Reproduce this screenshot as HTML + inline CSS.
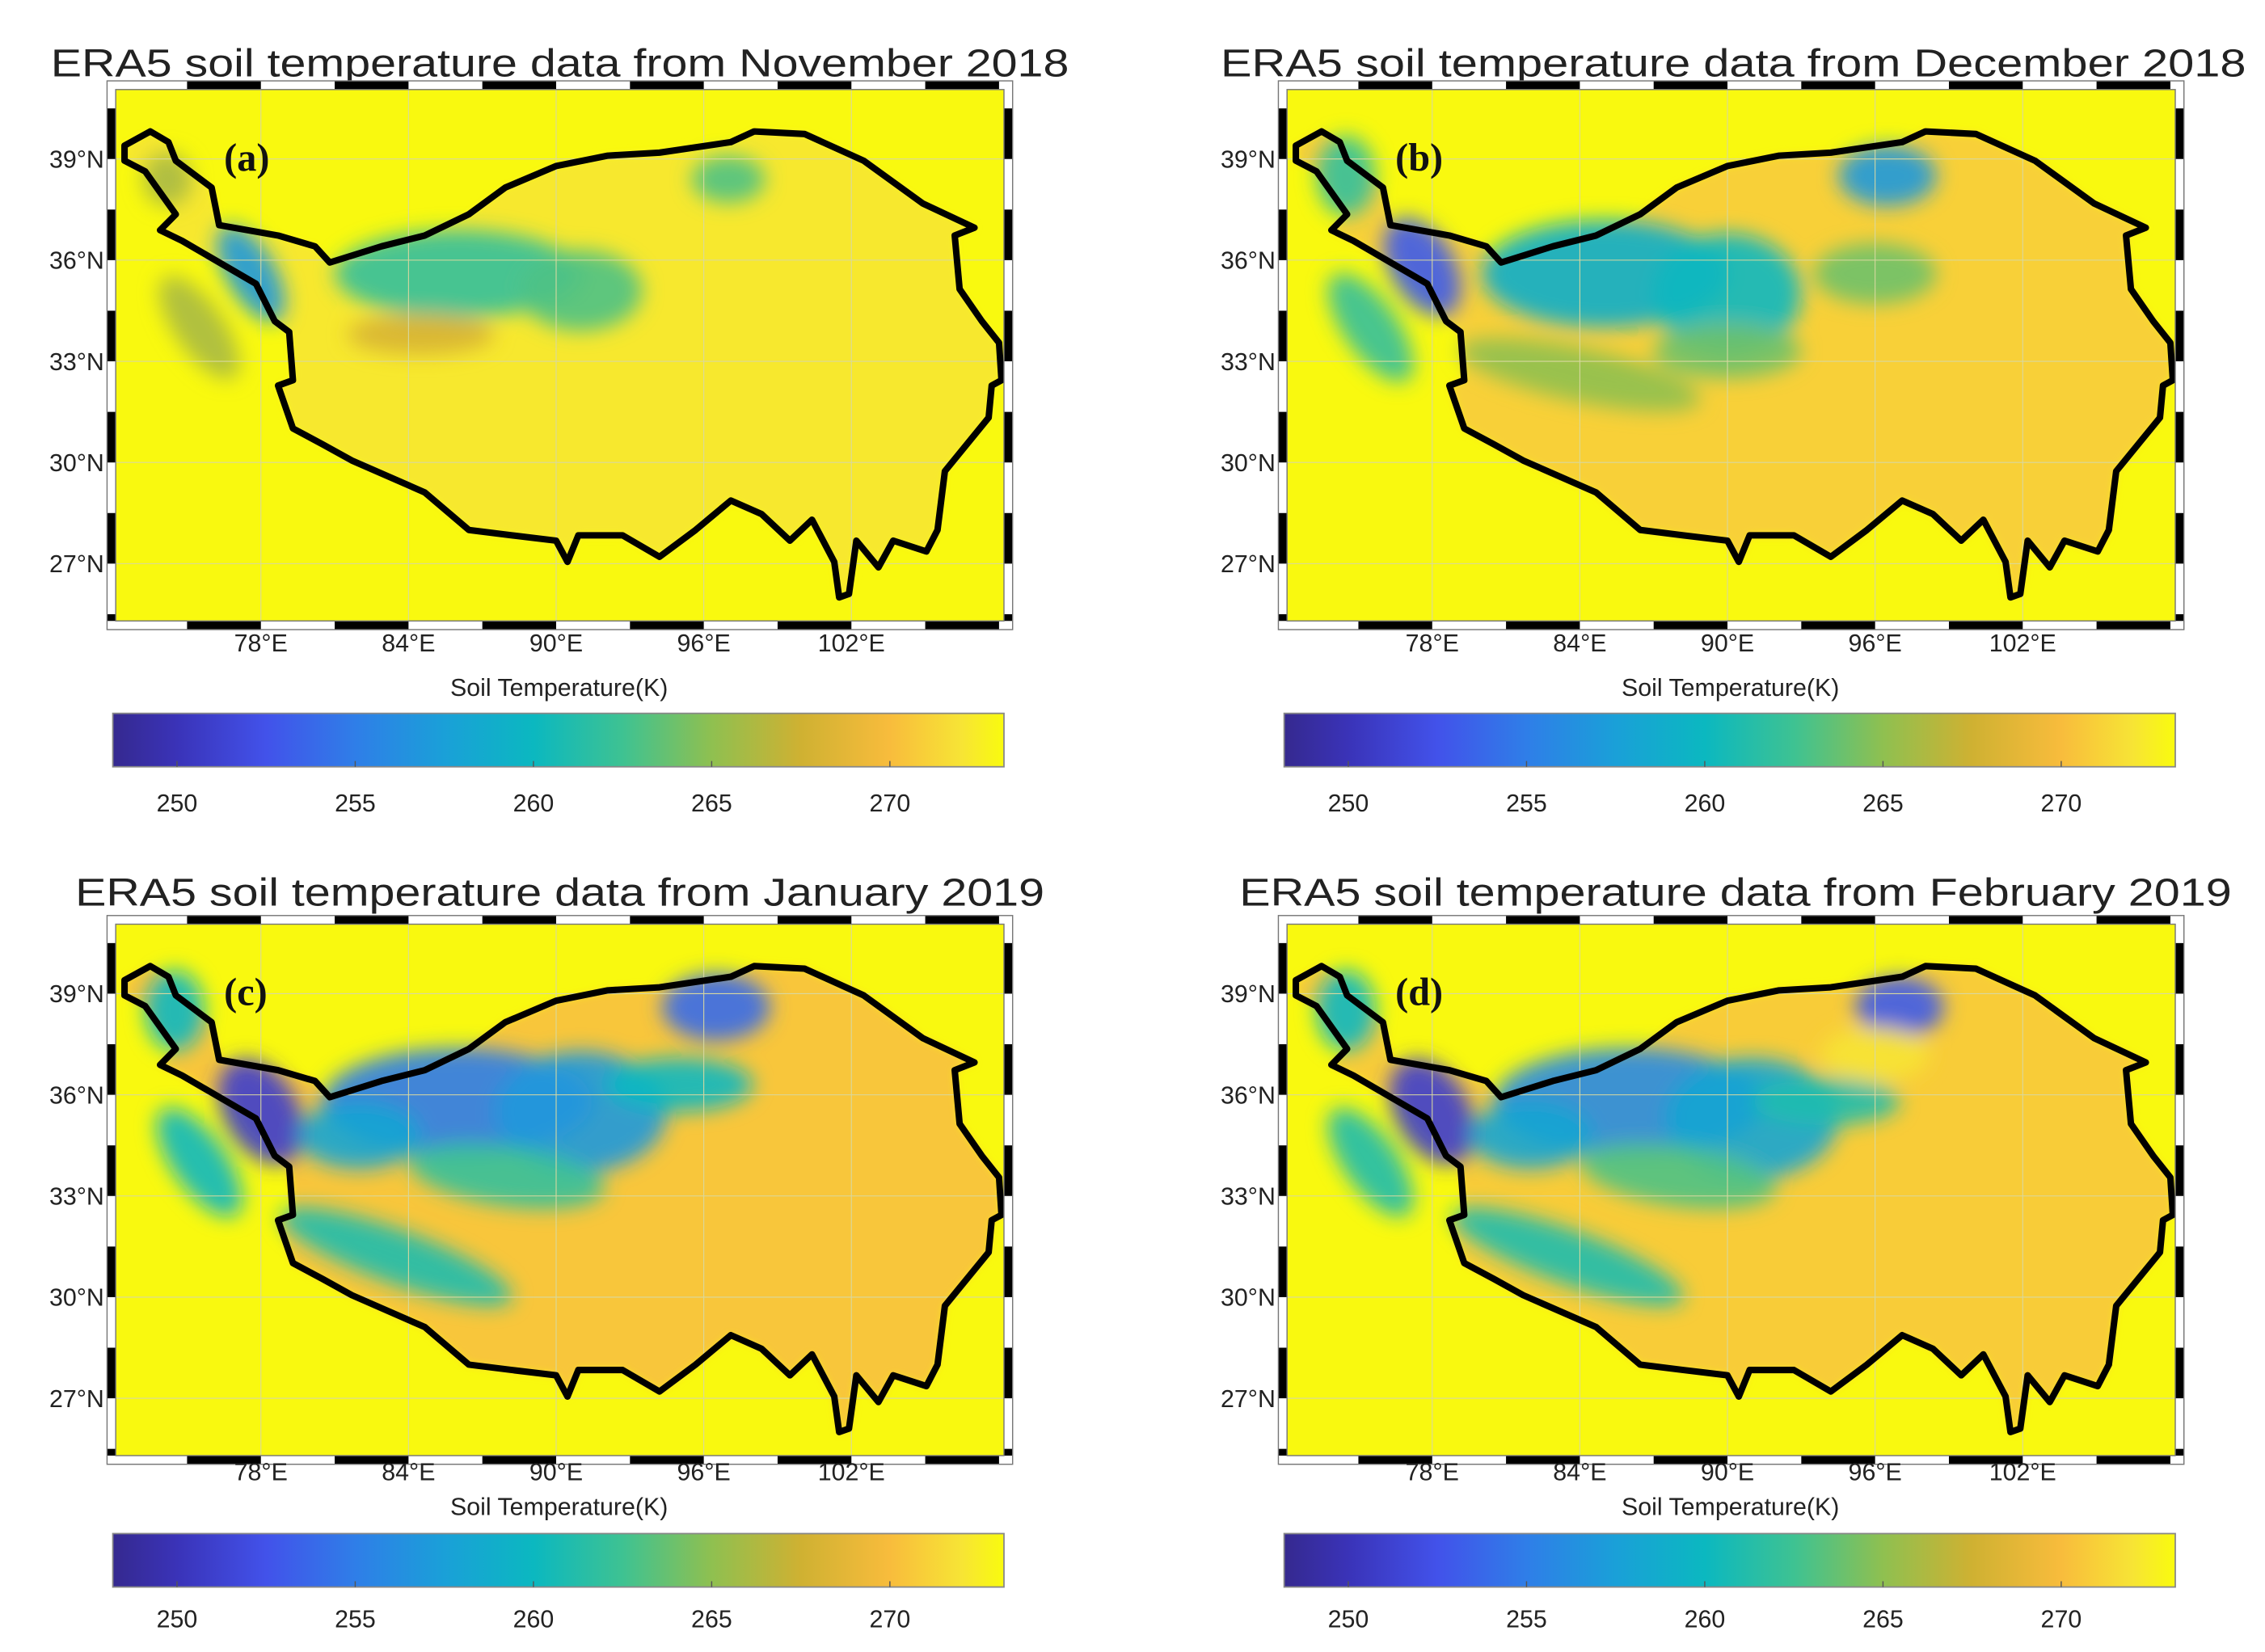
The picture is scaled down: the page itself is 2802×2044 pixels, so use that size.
<!DOCTYPE html>
<html><head><meta charset="utf-8">
<style>
html,body{margin:0;padding:0;background:#fff;}
svg{display:block;}
text{font-family:"Liberation Sans",Arial,sans-serif;fill:#222;}
text.letter{font-family:"Liberation Serif",serif;font-weight:bold;fill:#111;}
</style></head>
<body>
<svg id="fig" width="2802" height="2044" viewBox="0 0 1568 1144" xmlns="http://www.w3.org/2000/svg">
<defs>
<filter id="blur" x="-20%" y="-20%" width="140%" height="140%"><feGaussianBlur stdDeviation="7"/></filter>
<filter id="blur2" x="-20%" y="-20%" width="140%" height="140%"><feGaussianBlur stdDeviation="3"/></filter>
</defs>
</svg>
<script>
// ---- data ----
const panelTitles = ["ERA5 soil temperature data from November 2018","ERA5 soil temperature data from December 2018","ERA5 soil temperature data from January 2019","ERA5 soil temperature data from February 2019"];
const panelLetters = ["(a)","(b)","(c)","(d)"];
const lonTicks = [78,84,90,96,102];
const latTicks = [39,36,33,30,27];
const cbTicks = [250,255,260,265,270];
const cbMin = 248.2, cbMax = 273.2;
const outlineLon = [72.46,73.5,74.24,74.54,76.0,76.3,78.7,80.2,80.8,82.9,84.66,86.45,87.93,90.0,92.1,94.2,97.1,98.05,100.1,102.5,104.9,107.0,106.2,106.4,107.3,108.0,108.1,107.7,107.58,105.8,105.5,105.05,103.7,103.1,102.2,101.9,101.5,101.3,100.4,99.5,98.35,97.1,95.67,94.2,92.7,90.9,90.46,90.0,88.2,86.45,84.66,81.7,80.5,79.3,78.7,79.3,79.15,78.56,77.8,74.8,73.9,74.54,73.3,72.46];
const outlineLat = [39.4,39.82,39.5,38.95,38.15,37.04,36.73,36.41,35.93,36.41,36.73,37.36,38.15,38.79,39.1,39.19,39.5,39.82,39.74,38.95,37.68,36.96,36.73,35.14,34.19,33.55,32.44,32.28,31.33,29.74,28.0,27.36,27.68,26.89,27.68,26.1,26.0,27.05,28.3,27.68,28.47,28.87,28.0,27.2,27.84,27.84,27.05,27.68,27.84,28.0,29.11,30.06,30.54,31.01,32.28,32.44,33.87,34.19,35.3,36.57,36.89,37.36,38.63,38.95];
// temperature regions per panel: lon, lat, radius lon, radius lat, rotation, temperature (K)
const blobLon = [[86,91,97,77.6,75.5,84.5,74.2],
 [85,90,96.5,77.6,74.5,84,96,75.5,90],
 [86,91,96.5,78,74.5,83.5,95,75.5,88,82],
 [86,91,97,78,74.5,83.5,94,75.5,88,96,82]];
const blobLat = [[35.6,35.1,38.4,35.6,34.0,33.8,38.4],
 [35.6,35.0,38.5,35.8,38.5,32.6,35.6,34.0,33.3],
 [35.8,35.5,38.6,35.5,38.5,31.2,36.3,34.0,33.6,34.8],
 [35.8,35.3,38.6,35.5,38.5,31.2,35.8,34.0,33.6,37.2,34.8]];
const blobRx = [[5,2.5,1.5,1.0,1.0,3,1.0],
 [5,3,2,1.3,1.2,5,2.5,1.1,3],
 [5.5,3.5,2.2,1.5,1.2,5,3,1.1,4,2.5],
 [5.5,3.5,1.8,1.5,1.2,5,3,1.1,4,2.2,2.5]];
const blobRy = [[1.3,1.2,0.7,1.6,1.8,0.6,0.8],
 [1.6,1.8,0.9,1.6,1.2,0.8,0.9,1.9,0.8],
 [1.6,1.8,1.0,1.7,1.2,0.8,0.8,1.9,0.9,1.0],
 [1.6,1.8,0.9,1.7,1.2,0.8,0.7,1.9,0.9,0.8,1.0]];
const blobRot = [[0,0,0,-30,-35,0,0],
 [0,0,0,-30,0,12,0,-35,0],
 [0,0,0,-30,0,20,0,-35,8,0],
 [0,0,0,-30,0,20,0,-35,8,0,0]];
const blobT = [[262,263,263,257,266,268,266],
 [259,260,257,253,262,265,264,262,264],
 [255,257,254,251,260,261,260,260,262,258],
 [256,258,253,251,260,261,261,261,263,272,258]];
const plateauBaseT = [272.2,271.0,270.5,270.8];
// ---- layout ----
const panelDX = [0,811,0,811];
const panelDY = [0,0,578,578];
const titleX = [[35,740],[845,1555],[52,723],[858,1545]];
const titleY = [53,53,627,627];
const xlabY = [451,451,1025,1025];
const soilY = [482,482,1049,1049];
const cbY = [494,494,1062,1062];
const cbTickY = [562,562,1127,1127];
const parulaT = [248,250,252.5,255,257.5,260,262.5,265,267.5,270,272,273.2];
const parulaC = ["#35298f","#3a33b8","#4252ea","#2f7ee8","#1aa0d8","#0bb8c0","#3ec292","#8fc050","#cfb132","#f8bc3c","#f7e435","#f9fb0e"];
function hex(c){return [1,3,5].map(i=>parseInt(c.substr(i,2),16));}
function color(t){
  if(t<=parulaT[0]) return parulaC[0];
  for(let i=1;i<parulaT.length;i++){ if(t<=parulaT[i]){const f=(t-parulaT[i-1])/(parulaT[i]-parulaT[i-1]);const a=hex(parulaC[i-1]),b=hex(parulaC[i]);return "rgb("+a.map((v,k)=>Math.round(v+(b[k]-v)*f)).join(",")+")";}}
  return parulaC[parulaC.length-1];
}
const NS="http://www.w3.org/2000/svg";
const svg=document.getElementById('fig');
const defs=svg.querySelector('defs');
function el(tag,attrs,parent){const e=document.createElementNS(NS,tag);for(const k in attrs)e.setAttribute(k,attrs[k]);(parent||svg).appendChild(e);return e;}
const grad=el('linearGradient',{id:'parula',x1:'0',x2:'1',y1:'0',y2:'0'},defs);
parulaT.forEach((t,i)=>el('stop',{offset:((t-cbMin)/(cbMax-cbMin)).toFixed(4),'stop-color':parulaC[i]},grad));
const MAPL=80,MAPR=695,MAPT=62,MAPB=430,LON0=72.1,LON1=108.2,LAT0=25.3,LAT1=41.06;
for(let p=0;p<4;p++){
  const dx=panelDX[p],dy=panelDY[p];
  const xS=lon=>dx+MAPL+(lon-LON0)/(LON1-LON0)*(MAPR-MAPL);
  const yS=lat=>dy+MAPT+(LAT1-lat)/(LAT1-LAT0)*(MAPB-MAPT);
  const g=el('g',{});
  
  
  const t=el('text',{x:titleX[p][0],y:titleY[p],'font-size':27,textLength:titleX[p][1]-titleX[p][0],lengthAdjust:'spacingAndGlyphs'},g);
  t.textContent=panelTitles[p];
  
  
  const cid='clip'+p;
  const cp=el('clipPath',{id:cid},defs);
  el('rect',{x:dx+MAPL,y:dy+MAPT,width:MAPR-MAPL,height:MAPB-MAPT},cp);
  const map=el('g',{'clip-path':'url(#'+cid+')'},g);
  
  
  el('rect',{x:dx+MAPL,y:dy+MAPT,width:MAPR-MAPL,height:MAPB-MAPT,fill:'#f9f90f'},map);
  let d='';
  outlineLon.forEach((lo,i)=>{d+=(i?'L':'M')+xS(lo).toFixed(1)+','+yS(outlineLat[i]).toFixed(1);});
  d+='Z';
  const base=el('path',{d:d,fill:color(plateauBaseT[p]),filter:'url(#blur2)'},map);
  
  
  const bg=el('g',{filter:'url(#blur)'},map);
  blobLon[p].forEach((lo,i)=>{
    const cx=xS(lo),cy=yS(blobLat[p][i]);
    const b=el('ellipse',{cx:cx,cy:cy,rx:blobRx[p][i]*(MAPR-MAPL)/(LON1-LON0),ry:blobRy[p][i]*(MAPB-MAPT)/(LAT1-LAT0),fill:color(blobT[p][i]),opacity:0.9,transform:'rotate('+blobRot[p][i]+' '+cx+' '+cy+')'},bg);
    
    
  });
  lonTicks.forEach(lo=>el('line',{x1:xS(lo),x2:xS(lo),y1:dy+MAPT,y2:dy+MAPB,stroke:'#d8d8a0','stroke-width':0.6},map));
  latTicks.forEach(la=>el('line',{x1:dx+MAPL,x2:dx+MAPR,y1:yS(la),y2:yS(la),stroke:'#d8d8a0','stroke-width':0.6},map));
  const ol=el('path',{d:d,fill:'none',stroke:'#000','stroke-width':4.5,'stroke-linejoin':'round'},map);
  
  
  const fw=6;
  el('rect',{x:dx+MAPL-fw/2,y:dy+MAPT-fw/2,width:MAPR-MAPL+fw,height:MAPB-MAPT+fw,fill:'none',stroke:'#fff','stroke-width':fw},g);
  for(let lo=72;lo<108.2;lo+=3){
    if(((lo-75)/3)%2!==0) continue;
    const a=Math.max(xS(lo),dx+MAPL),b=Math.min(xS(lo+3),dx+MAPR);
    el('rect',{x:a,y:dy+MAPT-fw,width:b-a,height:fw,fill:'#000'},g);
    el('rect',{x:a,y:dy+MAPB,width:b-a,height:fw,fill:'#000'},g);
  }
  for(let la=24;la<41.1;la+=1.5){
    if(Math.round((la-24)/1.5)%2!==0) continue;
    const a=Math.max(yS(la+1.5),dy+MAPT),b=Math.min(yS(la),dy+MAPB);
    el('rect',{x:dx+MAPL-fw,y:a,width:fw,height:b-a,fill:'#000'},g);
    el('rect',{x:dx+MAPR,y:a,width:fw,height:b-a,fill:'#000'},g);
  }
  el('rect',{x:dx+MAPL-fw,y:dy+MAPT-fw,width:MAPR-MAPL+2*fw,height:MAPB-MAPT+2*fw,fill:'none',stroke:'#777','stroke-width':0.8},g);
  el('rect',{x:dx+MAPL,y:dy+MAPT,width:MAPR-MAPL,height:MAPB-MAPT,fill:'none',stroke:'#777','stroke-width':0.8},g);
  const lt=el('text',{x:dx+155,y:dy+118,'font-size':27,'class':'letter'},g);
  lt.textContent=panelLetters[p];
  
  
  lonTicks.forEach(lo=>{const tx=el('text',{x:xS(lo),y:xlabY[p],'font-size':17,'text-anchor':'middle'},g);tx.textContent=lo+'°E';
    
    });
  latTicks.forEach(la=>{const tx=el('text',{x:dx+72,y:yS(la)+6,'font-size':17,'text-anchor':'end'},g);tx.textContent=la+'°N';
    
    });
  const sl=el('text',{x:dx+387,y:soilY[p],'font-size':17,'text-anchor':'middle'},g);
  sl.textContent='Soil Temperature(K)';
  
  
  const cb=el('rect',{x:dx+78,y:cbY[p],width:617,height:37,fill:'url(#parula)',stroke:'#888','stroke-width':1},g);
  
  
  cbTicks.forEach(v=>{const x=dx+78+(v-cbMin)/(cbMax-cbMin)*617;
    el('line',{x1:x,x2:x,y1:cbY[p]+33,y2:cbY[p]+37,stroke:'#555','stroke-width':0.8},g);
    const tx=el('text',{x:x,y:cbTickY[p],'font-size':17,'text-anchor':'middle',fill:'#444'},g);tx.textContent=v;
    
    });
}
</script>
</body></html>
